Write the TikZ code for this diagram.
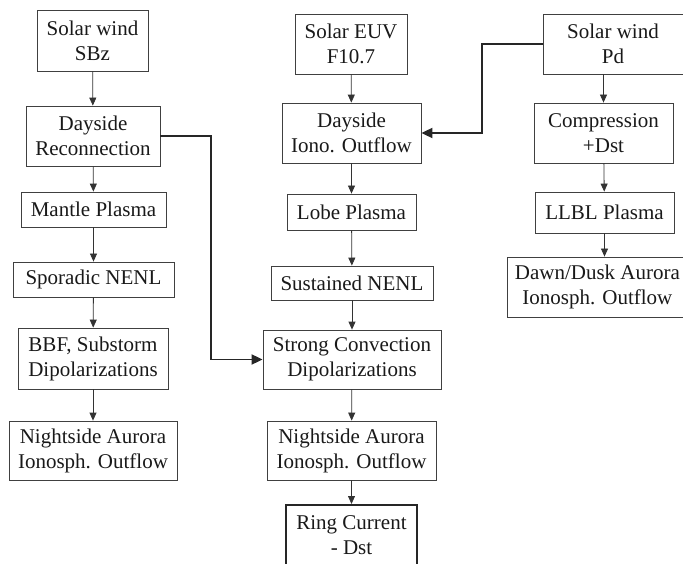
\documentclass[tikz,border=0pt]{standalone}
\usepackage{fontspec}
\setmainfont{Liberation Serif}
\usetikzlibrary{arrows.meta}
\begin{document}
\begin{tikzpicture}[x=1pt,y=-1pt,
  box/.style={draw=black!75,line width=0.8pt,inner sep=0pt,align=center,
    font=\fontsize{21}{25}\selectfont,text=black!90},
  flow/.style={draw=black!80,line width=0.8pt,-{Triangle[length=8pt,width=7pt]}},
  cross/.style={draw=black!85,line width=1.8pt,-{Triangle[length=11pt,width=10pt]}}]
\useasboundingbox (0,0) rectangle (683,564);
% column 1
\node[box,minimum width=111pt,minimum height=61pt] (sbz) at (92.5,40.5) {Solar wind\\SBz};
\node[box,minimum width=134pt,minimum height=60pt] (dr) at (93,136) {Dayside\\Reconnection};
\node[box,minimum width=145pt,minimum height=35pt] (mp) at (93.5,209.5) {Mantle Plasma};
\node[box,minimum width=161pt,minimum height=35pt] (sn) at (93.5,279.5) {Sporadic NENL};
\node[box,minimum width=150pt,minimum height=61pt] (bbf) at (93,358.5) {BBF, Substorm\\Dipolarizations};
\node[box,minimum width=168pt,minimum height=59pt] (na1) at (93,450.5) {Nightside Aurora\\Ionosph. Outflow};
% column 2
\node[box,minimum width=112pt,minimum height=60pt] (euv) at (351,44) {Solar EUV\\F10.7};
\node[box,minimum width=139pt,minimum height=60pt] (dio) at (351.5,133) {Dayside\\Iono. Outflow};
\node[box,minimum width=129pt,minimum height=36pt] (lp) at (351.5,212) {Lobe Plasma};
\node[box,minimum width=162pt,minimum height=34pt] (sus) at (352,283) {Sustained NENL};
\node[box,minimum width=178pt,minimum height=59pt] (sc) at (352,359.5) {Strong Convection\\Dipolarizations};
\node[box,minimum width=169pt,minimum height=59pt] (na2) at (351.5,450.5) {Nightside Aurora\\Ionosph. Outflow};
\node[box,line width=1.8pt,draw=black!85,minimum width=131pt,minimum height=70pt,anchor=north] (rc) at (351.5,504) {};
\node[font=\fontsize{21}{25}\selectfont,text=black!90,align=center,anchor=north] (rct) at (351.5,512) {Ring Current\\- Dst};
% column 3
\node[box,minimum width=140pt,minimum height=60pt] (pd) at (613,44) {Solar wind\\Pd};
\node[box,minimum width=139pt,minimum height=60pt] (comp) at (603.5,133) {Compression\\+Dst};
\node[box,minimum width=139pt,minimum height=41pt] (llbl) at (604.5,212.5) {LLBL Plasma};
\node[box,minimum width=180pt,minimum height=60pt,anchor=west] (dd) at (507,287) {Dawn/Dusk Aurora\\Ionosph. Outflow};
% vertical flows
\draw[flow] (sbz) -- (dr);
\draw[flow] (dr) -- (mp);
\draw[flow] (mp) -- (sn);
\draw[flow] (sn) -- (bbf);
\draw[flow] (bbf) -- (na1);
\draw[flow] (euv) -- (dio);
\draw[flow] (dio) -- (lp);
\draw[flow] (lp) -- (sus);
\draw[flow] (sus) -- (sc);
\draw[flow] (sc) -- (na2);
\draw[flow] (na2) -- (rc);
\draw[flow] (pd.south -| comp) -- (comp);
\draw[flow] (comp) -- (llbl);
\draw[flow] (llbl.south) -- (llbl.south |- dd.north);
% cross connectors
\draw[cross] (dr.east) -- (211,136) |- (sc.west);
\draw[cross] (pd.west) -- (482,44) |- (dio.east);
\end{tikzpicture}
\end{document}
